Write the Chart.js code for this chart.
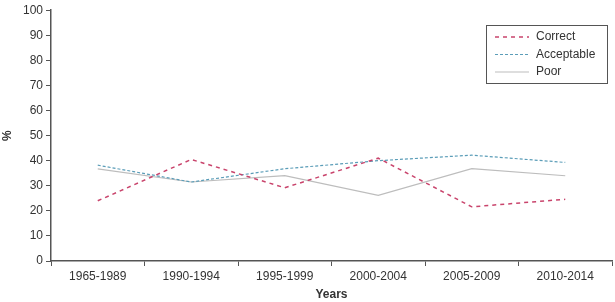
<!DOCTYPE html>
<html><head><meta charset="utf-8">
<script src="https://cdn.jsdelivr.net/npm/chart.js@4/dist/chart.umd.min.js"></script>
<style>html,body{margin:0;padding:0;background:#fff;}#wrap{width:615px;height:302px;}</style>
</head><body><div id="wrap"><canvas id="c" width="615" height="302"></canvas></div>
<script>
const categories = ['1965-1989','1990-1994','1995-1999','2000-2004','2005-2009','2010-2014'];
const correct = [24, 40.5, 29.2, 41, 21.6, 24.6];
const acceptable = [38.2, 31.5, 36.8, 40, 42.2, 39.3];
const poor = [36.7, 31.5, 34, 26.2, 36.8, 34];
const yTicks = [0,10,20,30,40,50,60,70,80,90,100];

const FONT = 'Liberation Sans, Arial, sans-serif';

const boxLegend = {
  id: 'boxLegend',
  afterDraw(chart) {
    const ctx = chart.ctx;
    const x0 = 486, y0 = 25, w = 121, h = 58;
    ctx.save();
    ctx.strokeStyle = '#555'; ctx.lineWidth = 1;
    ctx.strokeRect(x0 + 0.5, y0 + 0.5, w, h);
    ctx.font = '12px ' + FONT; ctx.fillStyle = '#333'; ctx.textBaseline = 'middle';
    chart.data.datasets.forEach((ds, i) => {
      const y = y0 + 12 + i * 17.5;
      ctx.beginPath();
      ctx.strokeStyle = ds.borderColor; ctx.lineWidth = ds.borderWidth;
      ctx.setLineDash(ds.borderDash || []);
      ctx.moveTo(x0 + 9, y); ctx.lineTo(x0 + 43, y); ctx.stroke();
      ctx.setLineDash([]);
      ctx.fillText(ds.label, x0 + 50, y);
    });
    ctx.restore();
  }
};

new Chart(document.getElementById('c'), {
  type: 'line',
  data: {
    labels: categories,
    datasets: [
      {label:'Correct', data: correct, borderColor:'#c9446c', borderWidth:1.5, borderDash:[4,4], pointRadius:0, fill:false, tension:0},
      {label:'Acceptable', data: acceptable, borderColor:'#5b9db8', borderWidth:1.2, borderDash:[3,2], pointRadius:0, fill:false, tension:0},
      {label:'Poor', data: poor, borderColor:'#bdbdbd', borderWidth:1.2, pointRadius:0, fill:false, tension:0}
    ]
  },
  options: {
    responsive:false, animation:false,
    layout:{padding:{top:10, right:3, left:0, bottom:0}},
    plugins:{legend:{display:false}, tooltip:{enabled:false}},
    scales:{
      x:{
        offset:true,
        grid:{offset:true, drawOnChartArea:false, tickLength:5, color:'#555', lineWidth:1},
        border:{color:'#555', width:1.5},
        ticks:{color:'#333', font:{family:FONT, size:12}, maxRotation:0, padding:3},
        title:{display:true, text:'Years', color:'#333', font:{family:FONT, size:12, weight:'bold'}, padding:{top:2,bottom:0}},
        afterFit(s){ s.height = 41; }
      },
      y:{
        min:0, max:100,
        afterBuildTicks(s){ s.ticks = yTicks.map(v=>({value:v})); },
        grid:{drawOnChartArea:false, tickLength:5, color:'#555', lineWidth:1},
        border:{color:'#555', width:1.5},
        ticks:{color:'#333', font:{family:FONT, size:12}, padding:3},
        title:{display:true, text:'%', color:'#333', font:{family:FONT, size:12, weight:'bold'}, padding:{top:0,bottom:4}},
        afterFit(s){ s.width = 51; }
      }
    }
  },
  plugins:[boxLegend]
});
</script></body></html>
